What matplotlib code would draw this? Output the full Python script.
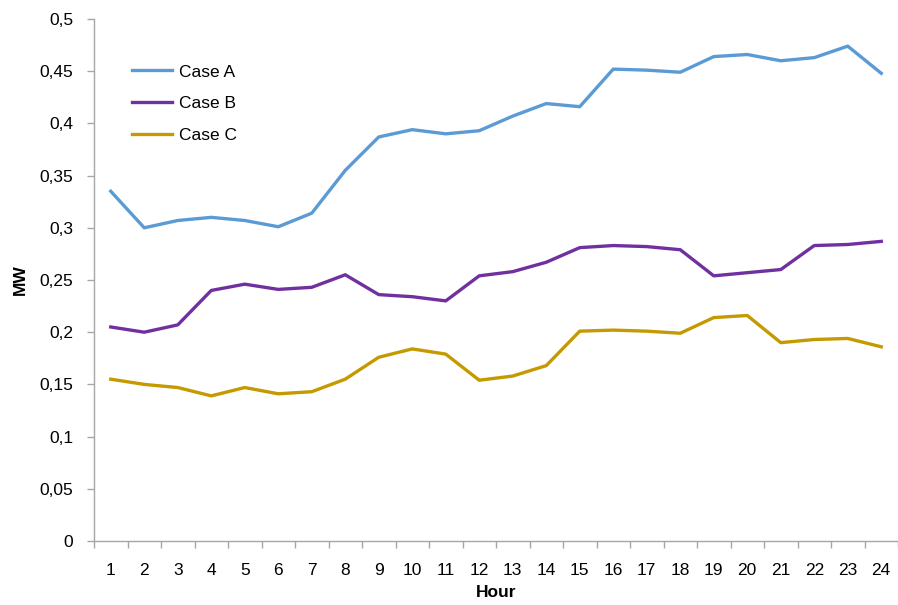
import matplotlib
matplotlib.use("Agg")
import matplotlib.pyplot as plt
from matplotlib.ticker import FuncFormatter, MultipleLocator, FixedLocator

hours = list(range(1, 25))
case_a = [0.335, 0.300, 0.307, 0.310, 0.307, 0.301, 0.314, 0.355, 0.387, 0.394, 0.390, 0.393,
          0.407, 0.419, 0.416, 0.452, 0.451, 0.449, 0.464, 0.466, 0.460, 0.463, 0.474, 0.448]
case_b = [0.205, 0.200, 0.207, 0.240, 0.246, 0.241, 0.243, 0.255, 0.236, 0.234, 0.230, 0.254,
          0.258, 0.267, 0.281, 0.283, 0.282, 0.279, 0.254, 0.257, 0.260, 0.283, 0.284, 0.287]
case_c = [0.155, 0.150, 0.147, 0.139, 0.147, 0.141, 0.143, 0.155, 0.176, 0.184, 0.179, 0.154,
          0.158, 0.168, 0.201, 0.202, 0.201, 0.199, 0.214, 0.216, 0.190, 0.193, 0.194, 0.186]

series = [("Case A", case_a, "#5B9BD5"),
          ("Case B", case_b, "#7030A0"),
          ("Case C", case_c, "#C49A00")]

plt.rcParams["font.family"] = ["Liberation Sans", "DejaVu Sans"]

fig = plt.figure(figsize=(8.98, 6.05), dpi=100)
ax = fig.add_axes([94 / 898, 1 - 541 / 605, 1 - 94 / 898, (541 - 19) / 605])

for name, vals, color in series:
    ax.plot(hours, vals, color=color, lw=2.4, label=name, solid_joinstyle="round")

ax.set_xlim(0.5, 24.5)
ax.set_ylim(0, 0.5)

ax.yaxis.set_major_locator(MultipleLocator(0.05))
ax.yaxis.set_major_formatter(FuncFormatter(
    lambda v, p: f"{v:.2f}".rstrip("0").rstrip(".").replace(".", ",") if v else "0"))

ax.xaxis.set_major_locator(FixedLocator(hours))
ax.xaxis.set_minor_locator(FixedLocator([h + 0.5 for h in range(0, 25)]))
ax.tick_params(axis="x", which="major", length=0, pad=16, labelsize=12.5)
ax.tick_params(axis="x", which="minor", length=5, color="#A6A6A6", width=1)
ax.tick_params(axis="y", which="major", length=5, color="#A6A6A6", width=1, pad=10, labelsize=12.5)

for s in ("top", "right"):
    ax.spines[s].set_visible(False)
for s in ("left", "bottom"):
    ax.spines[s].set_color("#A6A6A6")
    ax.spines[s].set_linewidth(1)

ax.set_ylabel("MW", fontweight="bold", fontsize=12.5, labelpad=8)
ax.set_xlabel("Hour", fontweight="bold", fontsize=12.5, labelpad=5)

ax.legend(loc="upper left", bbox_to_anchor=(0.028, 0.943), frameon=False, fontsize=12.5,
          handlelength=2.3, handletextpad=0.4, labelspacing=0.95)

fig.savefig("out.png", dpi=100)
